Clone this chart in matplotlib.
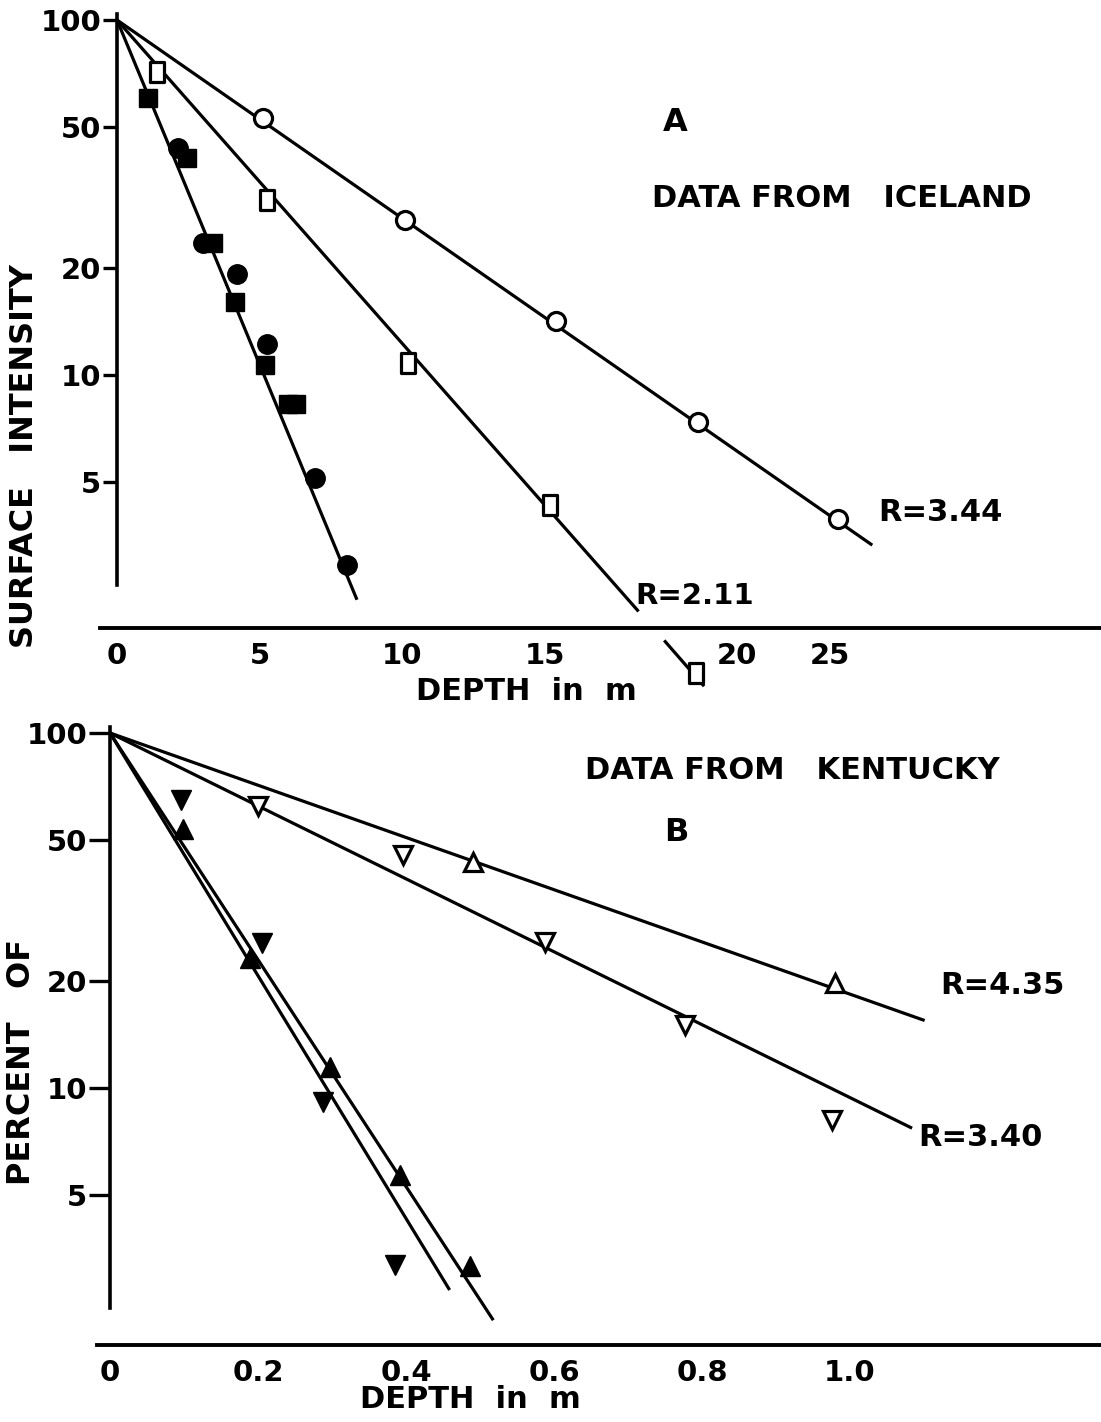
import matplotlib
matplotlib.use("Agg")
import matplotlib.pyplot as plt
from matplotlib.ticker import FixedLocator, FixedFormatter, NullLocator
from matplotlib.transforms import ScaledTranslation
from matplotlib.path import Path

plt.rcParams['font.family'] = ['DejaVu Sans']
plt.rcParams['font.weight'] = 'bold'
plt.rcParams['axes.labelweight'] = 'bold'

# ---------------- Panel A: data from Iceland ----------------
ice_open_circle_depth = [5.12, 10.1, 15.4, 20.4, 25.3]
ice_open_circle_pct = [53.0, 27.3, 14.2, 7.4, 3.93]
ice_open_square_depth = [1.40, 5.26, 10.2, 15.2, 20.3]
ice_open_square_pct = [71.4, 31.2, 10.8, 4.3, 1.45]
ice_filled_circle_depth = [2.14, 3.02, 4.21, 5.26, 6.95, 8.07]
ice_filled_circle_pct = [43.6, 23.5, 19.2, 12.2, 5.13, 2.92]
ice_filled_square_depth = [1.09, 2.46, 3.37, 4.14, 5.19, 6.00, 6.28]
ice_filled_square_pct = [60.3, 40.9, 23.5, 16.1, 10.7, 8.3, 8.3]

# fitted attenuation lines (depth, percent)
ice_fit_circle_depth = [0, 26.5]
ice_fit_circle_pct = [100, 3.32]
ice_fit_square_depth = [0, 18.3]
ice_fit_square_pct = [100, 2.16]
ice_fit_square_tail_depth = [19.2, 20.6]
ice_fit_square_tail_pct = [1.79, 1.33]
ice_fit_filled_depth = [0, 8.42]
ice_fit_filled_pct = [100, 2.33]

ice_xticks = [0, 5, 10, 15, 20, 25]
ice_xticklabels = ["0", "5", "10", "15", "20", "25"]

# ---------------- Panel B: data from Kentucky ----------------
ky_open_up_depth = [0.491, 0.980]
ky_open_up_pct = [43.3, 19.8]
ky_open_down_depth = [0.200, 0.396, 0.588, 0.777, 0.976]
ky_open_down_pct = [62.3, 45.3, 25.8, 15.1, 8.13]
ky_filled_up_depth = [0.099, 0.189, 0.297, 0.392, 0.486]
ky_filled_up_pct = [53.7, 23.2, 11.5, 5.69, 3.15]
ky_filled_down_depth = [0.096, 0.205, 0.288, 0.385]
ky_filled_down_pct = [64.7, 25.6, 9.14, 3.17]

ky_fit_open_up_depth = [0, 1.101]
ky_fit_open_up_pct = [100, 15.5]
ky_fit_open_down_depth = [0, 1.084]
ky_fit_open_down_pct = [100, 7.71]
ky_fit_filled_up_depth = [0, 0.518]
ky_fit_filled_up_pct = [100, 2.22]
ky_fit_filled_down_depth = [0, 0.459]
ky_fit_filled_down_pct = [100, 2.70]

ky_xticks = [0, 0.2, 0.4, 0.6, 0.8, 1.0]
ky_xticklabels = ["0", "0.2", "0.4", "0.6", "0.8", "1.0"]

yticks = [100, 50, 20, 10, 5]
yticklabels = ["100", "50", "20", "10", "5"]

# tall rectangle marker used for the open squares
rect_marker = Path([(-0.65, -1), (0.65, -1), (0.65, 1), (-0.65, 1), (-0.65, -1)],
                   [Path.MOVETO, Path.LINETO, Path.LINETO, Path.LINETO, Path.CLOSEPOLY])

W, H = 1101, 1422
fig = plt.figure(figsize=(W / 100, H / 100), dpi=100)
fig.patch.set_facecolor("white")

LW = 2.3
TXT = 21
K = "black"


def px_axes(left, top, right, bottom):
    return fig.add_axes([left / W, 1 - bottom / H, (right - left) / W, (bottom - top) / H])


def style_axes(ax, spine_low, tick_len):
    ax.set_yscale("log")
    for s in ("top", "right"):
        ax.spines[s].set_visible(False)
    ax.spines["left"].set_position(("data", 0))
    ax.spines["left"].set_bounds(spine_low, 104)
    ax.spines["left"].set_linewidth(2.6)
    ax.spines["bottom"].set_linewidth(2.8)
    ax.yaxis.set_major_locator(FixedLocator(yticks))
    ax.yaxis.set_major_formatter(FixedFormatter(yticklabels))
    ax.yaxis.set_minor_locator(NullLocator())
    ax.tick_params(axis="y", direction="out", length=tick_len, width=2.4,
                   pad=1.5, labelsize=TXT, colors=K)
    ax.tick_params(axis="x", length=0, pad=10, labelsize=TXT, colors=K)
    ax.patch.set_alpha(0)


# ---------------- Panel A ----------------
axA = px_axes(100, 10, 1100, 628)
style_axes(axA, 2.56, 10)
axA.set_xlim(-0.596, 34.49)
axA.set_ylim(1.94, 106.7)
axA.set_xticks(ice_xticks)
axA.set_xticklabels(ice_xticklabels)
# the "20" is lettered to the right of the stray square below the axis
for lbl, v in zip(axA.get_xticklabels(), ice_xticks):
    if v == 20:
        lbl.set_transform(lbl.get_transform() + ScaledTranslation(36 / 72, 0, fig.dpi_scale_trans))

line_kw = dict(color=K, lw=LW, solid_capstyle="butt")
axA.plot(ice_fit_circle_depth, ice_fit_circle_pct, **line_kw)
axA.plot(ice_fit_square_depth, ice_fit_square_pct, **line_kw)
axA.plot(ice_fit_square_tail_depth, ice_fit_square_tail_pct, clip_on=False, **line_kw)
axA.plot(ice_fit_filled_depth, ice_fit_filled_pct, **line_kw)

axA.plot(ice_open_circle_depth, ice_open_circle_pct, "o", ms=13, mfc="white",
         mec=K, mew=2.3, zorder=3)
axA.plot(ice_open_square_depth, ice_open_square_pct, ls="none", marker=rect_marker,
         ms=15, mfc="white", mec=K, mew=2.3, zorder=3, clip_on=False)
axA.plot(ice_filled_circle_depth, ice_filled_circle_pct, "o", ms=14, color=K, zorder=3)
axA.plot(ice_filled_square_depth, ice_filled_square_pct, "s", ms=13, color=K, zorder=3)

axA.text(19.6, 51.3, "A", fontsize=23, ha="center", va="center", color=K)
axA.text(18.77, 31.5, "DATA FROM   ICELAND", fontsize=TXT + 1, ha="left", va="center", color=K)
axA.text(26.7, 4.09, "R=3.44", fontsize=TXT + 1, ha="left", va="center", color=K)
axA.text(18.2, 2.39, "R=2.11", fontsize=TXT, ha="left", va="center", color=K)

axA.set_xlabel("DEPTH  in  m", fontsize=TXT + 1, color=K)
axA.xaxis.set_label_coords((526 - 100) / 1000, (628 - 691) / 618)
axA.xaxis.label.set_va("center")
axA.set_ylabel("SURFACE   INTENSITY", fontsize=TXT + 2, color=K)
axA.yaxis.set_label_coords((25 - 100) / 1000, (628 - 456) / 618)
axA.yaxis.label.set_va("center")

# ---------------- Panel B ----------------
axB = px_axes(97, 723, 1100, 1345)
style_axes(axB, 2.4, 15)
axB.set_xlim(-0.0176, 1.338)
axB.set_ylim(1.89, 106.7)
axB.set_xticks(ky_xticks)
axB.set_xticklabels(ky_xticklabels)

axB.plot(ky_fit_open_up_depth, ky_fit_open_up_pct, **line_kw)
axB.plot(ky_fit_open_down_depth, ky_fit_open_down_pct, **line_kw)
axB.plot(ky_fit_filled_up_depth, ky_fit_filled_up_pct, **line_kw)
axB.plot(ky_fit_filled_down_depth, ky_fit_filled_down_pct, **line_kw)

axB.plot(ky_open_up_depth, ky_open_up_pct, "^", ms=13, mfc="white", mec=K, mew=2.3, zorder=3)
axB.plot(ky_open_down_depth, ky_open_down_pct, "v", ms=13, mfc="white", mec=K, mew=2.3, zorder=3)
axB.plot(ky_filled_up_depth, ky_filled_up_pct, "^", ms=14, color=K, zorder=3)
axB.plot(ky_filled_down_depth, ky_filled_down_pct, "v", ms=14, color=K, zorder=3)

axB.text(0.642, 78.2, "DATA FROM   KENTUCKY", fontsize=TXT + 1, ha="left", va="center", color=K)
axB.text(0.765, 52.3, "B", fontsize=23, ha="center", va="center", color=K)
axB.text(1.122, 19.5, "R=4.35", fontsize=TXT + 1, ha="left", va="center", color=K)
axB.text(1.092, 7.26, "R=3.40", fontsize=TXT + 1, ha="left", va="center", color=K)

axB.set_xlabel("DEPTH  in  m", fontsize=TXT + 1, color=K)
axB.xaxis.set_label_coords((470 - 97) / 1003, (1345 - 1400) / 622)
axB.xaxis.label.set_va("center")
axB.set_ylabel("PERCENT   OF", fontsize=TXT + 2, color=K)
axB.yaxis.set_label_coords((22 - 97) / 1003, (1345 - 1062) / 622)
axB.yaxis.label.set_va("center")

fig.savefig("out.png", dpi=100, facecolor="white")
